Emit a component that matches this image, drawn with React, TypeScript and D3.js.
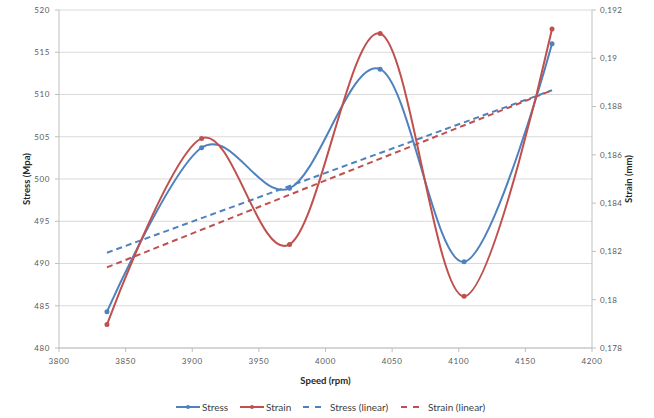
import { useEffect, useRef } from 'react'
import * as d3 from "d3"

// data
const speeds = [3836, 3907, 3973, 4041, 4104, 4170]
const stressValues = [484.3, 503.7, 498.9, 513.0, 490.2, 516.0]
const strainValues = [0.17897, 0.18668, 0.18229, 0.19103, 0.18014, 0.19121]
const xTicks = [3800, 3850, 3900, 3950, 4000, 4050, 4100, 4150, 4200]
const stressTicks = [480, 485, 490, 495, 500, 505, 510, 515, 520]
const strainTicks = [0.178, 0.18, 0.182, 0.184, 0.186, 0.188, 0.19, 0.192]
const legendItems = [
  { label: "Stress", color: "#4F81BD", dashed: false },
  { label: "Strain", color: "#C0504D", dashed: false },
  { label: "Stress (linear)", color: "#4F81BD", dashed: true },
  { label: "Strain (linear)", color: "#C0504D", dashed: true },
]

function linearFit(xs, ys) {
  const mx = d3.mean(xs)
  const my = d3.mean(ys)
  let sxy = 0, sxx = 0
  xs.forEach((x, i) => { sxy += (x - mx) * (ys[i] - my); sxx += (x - mx) * (x - mx) })
  const slope = sxy / sxx
  return (x) => my + slope * (x - mx)
}

function App() {
  const svgRef = useRef(null)
  const width = 654
  const height = 418
  const margin = { left: 59, right: 62, top: 10, bottom: 70 }
  const font = "Lato, 'Open Sans', sans-serif"

  useEffect(() => {
    const svg = d3.select(svgRef.current)
    svg.selectAll("*").remove()

    const x = d3.scaleLinear().domain([3800, 4200]).range([margin.left, width - margin.right])
    const yL = d3.scaleLinear().domain([480, 520]).range([height - margin.bottom, margin.top])
    const yR = d3.scaleLinear().domain([0.178, 0.192]).range([height - margin.bottom, margin.top])
    const bottom = height - margin.bottom
    const right = width - margin.right

    // gridlines
    svg.append("g").selectAll("line")
      .data(stressTicks)
      .join("line")
      .attr("x1", margin.left).attr("x2", right)
      .attr("y1", d => yL(d)).attr("y2", d => yL(d))
      .attr("stroke", "#d9d9d9").attr("stroke-width", 1)

    const axisColor = "#bfbfbf"
    const tickText = "#595959"

    // left axis
    const left = svg.append("g")
    left.append("line").attr("x1", margin.left).attr("x2", margin.left)
      .attr("y1", margin.top).attr("y2", bottom).attr("stroke", axisColor)
    left.selectAll("line.tick").data(stressTicks).join("line").attr("class", "tick")
      .attr("x1", margin.left - 4).attr("x2", margin.left)
      .attr("y1", d => yL(d)).attr("y2", d => yL(d)).attr("stroke", axisColor)
    left.selectAll("text").data(stressTicks).join("text")
      .attr("x", 50).attr("y", d => yL(d)).attr("dy", "0.35em")
      .attr("text-anchor", "end").attr("font-size", 8).attr("letter-spacing", 0.6)
      .attr("font-family", font).attr("fill", tickText).text(d => d)

    // right axis
    const rightAxis = svg.append("g")
    rightAxis.append("line").attr("x1", right).attr("x2", right)
      .attr("y1", margin.top).attr("y2", bottom).attr("stroke", axisColor)
    rightAxis.selectAll("line.tick").data(strainTicks).join("line").attr("class", "tick")
      .attr("x1", right).attr("x2", right + 4)
      .attr("y1", d => yR(d)).attr("y2", d => yR(d)).attr("stroke", axisColor)
    rightAxis.selectAll("text").data(strainTicks).join("text")
      .attr("x", right + 8).attr("y", d => yR(d)).attr("dy", "0.35em")
      .attr("text-anchor", "start").attr("font-size", 8).attr("letter-spacing", 0.4)
      .attr("font-family", font).attr("fill", tickText)
      .text(d => String(+d.toFixed(3)).replace(".", ","))

    // bottom axis
    const bottomAxis = svg.append("g")
    bottomAxis.append("line").attr("x1", margin.left).attr("x2", right)
      .attr("y1", bottom).attr("y2", bottom).attr("stroke", axisColor)
    bottomAxis.selectAll("line.tick").data(xTicks).join("line").attr("class", "tick")
      .attr("x1", d => x(d)).attr("x2", d => x(d))
      .attr("y1", bottom).attr("y2", bottom + 4).attr("stroke", axisColor)
    bottomAxis.selectAll("text").data(xTicks).join("text")
      .attr("x", d => x(d)).attr("y", bottom + 16)
      .attr("text-anchor", "middle").attr("font-size", 8).attr("letter-spacing", 0.6)
      .attr("font-family", font).attr("fill", tickText).text(d => d)

    // axis titles
    svg.append("text").attr("x", (margin.left + right) / 2).attr("y", 384)
      .attr("text-anchor", "middle").attr("font-size", 9.5).attr("font-weight", "bold")
      .attr("font-family", font).attr("fill", "#262626").text("Speed (rpm)")
    svg.append("text").attr("transform", `translate(30,${(margin.top + bottom) / 2}) rotate(-90)`)
      .attr("text-anchor", "middle").attr("font-size", 9.5).attr("font-weight", "bold")
      .attr("font-family", font).attr("fill", "#262626").text("Stress (Mpa)")
    svg.append("text").attr("transform", `translate(632,${(margin.top + bottom) / 2}) rotate(-90)`)
      .attr("text-anchor", "middle").attr("font-size", 9.5).attr("font-weight", "bold")
      .attr("font-family", font).attr("fill", "#262626").text("Strain (mm)")

    // trend lines
    const stressFit = linearFit(speeds, stressValues)
    const strainFit = linearFit(speeds, strainValues)
    const ends = [speeds[0], speeds[speeds.length - 1]]
    const straight = d3.line()
    svg.append("path")
      .attr("d", straight(ends.map(s => [x(s), yL(stressFit(s))])))
      .attr("fill", "none").attr("stroke", "#4F81BD").attr("stroke-width", 2)
      .attr("stroke-dasharray", "6,4")
    svg.append("path")
      .attr("d", straight(ends.map(s => [x(s), yR(strainFit(s))])))
      .attr("fill", "none").attr("stroke", "#C0504D").attr("stroke-width", 2)
      .attr("stroke-dasharray", "6,4")

    // smoothed series
    const smooth = d3.line().curve(d3.curveCardinal.tension(0))
    const series = [
      { values: stressValues, scale: yL, color: "#4F81BD" },
      { values: strainValues, scale: yR, color: "#C0504D" },
    ]
    series.forEach(s => {
      const pts = speeds.map((sp, i) => [x(sp), s.scale(s.values[i])])
      svg.append("path").attr("d", smooth(pts))
        .attr("fill", "none").attr("stroke", s.color).attr("stroke-width", 2)
      svg.append("g").selectAll("circle").data(pts).join("circle")
        .attr("cx", d => d[0]).attr("cy", d => d[1]).attr("r", 2.5)
        .attr("fill", s.color)
    })

    // legend
    const legendX = [176, 240, 303, 401]
    const legend = svg.append("g")
    legendItems.forEach((item, i) => {
      const g = legend.append("g").attr("transform", `translate(${legendX[i]},407)`)
      g.append("line").attr("x1", 0).attr("x2", 24).attr("y1", 0).attr("y2", 0)
        .attr("stroke", item.color).attr("stroke-width", 2)
        .attr("stroke-dasharray", item.dashed ? "6,6" : null)
      if (!item.dashed) g.append("circle").attr("cx", 12).attr("cy", 0).attr("r", 2).attr("fill", item.color)
      g.append("text").attr("x", item.dashed ? 27 : 26).attr("y", 0).attr("dy", "0.35em")
        .attr("font-size", 10).attr("font-family", font).attr("fill", "#404040").text(item.label)
    })
  }, [])

  return (
    <svg ref={svgRef} width={width} height={height}
      style={{ position: "absolute", left: 0, top: 0, background: "white" }}></svg>
  )
}

export default App
